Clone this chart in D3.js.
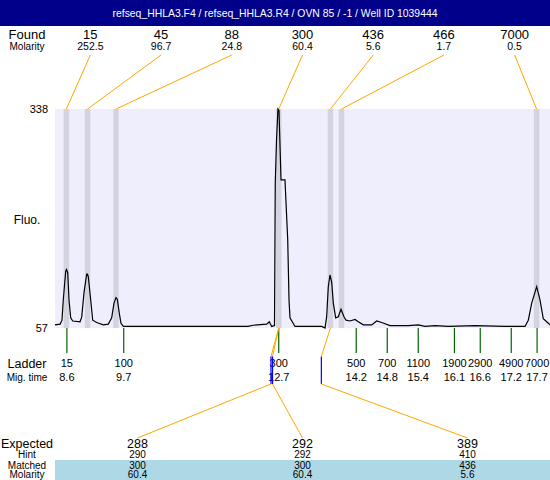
<!DOCTYPE html>
<html><head><meta charset="utf-8">
<script src="https://cdn.jsdelivr.net/npm/d3@7"></script>
<style>
html,body{margin:0;padding:0;background:#fff;}
svg{display:block;font-family:"Liberation Sans",Arial,sans-serif;}
</style></head>
<body>
<svg id="chart" width="550" height="480"></svg>
<script>
const title = "refseq_HHLA3.F4 / refseq_HHLA3.R4 / OVN 85 / -1 / Well ID 1039444";

const ladderSizes = [15, 100, 300, 500, 700, 1100, 1900, 2900, 4900, 7000];
const ladderTimes = [8.6, 9.7, 12.7, 14.2, 14.8, 15.4, 16.1, 16.6, 17.2, 17.7];

const foundSizes = [15, 45, 88, 300, 436, 466, 7000];
const foundMolarity = ["252.5", "96.7", "24.8", "60.4", "5.6", "1.7", "0.5"];
const foundTimes = [8.59, 9.0, 9.55, 12.70, 13.70, 13.915, 17.69];

const expectedSizes = [288, 292, 389];
const hintSizes = [290, 292, 410];
const matchedSizes = [300, 300, 436];
const matchedMolarity = ["60.4", "60.4", "5.6"];

const yTicks = [57, 338];
const timeDomain = [8.37, 17.95];

const traceTime = [8.37,8.47,8.505,8.53,8.577,8.593,8.616,8.641,8.674,8.713,8.854,8.887,8.931,8.983,8.999,9.014,9.061,9.10,9.177,9.305,9.402,9.467,9.512,9.55,9.576,9.614,9.647,9.692,12.105,12.202,12.467,12.517,12.564,12.618,12.633,12.657,12.685,12.705,12.744,12.821,12.874,12.899,12.918,13.015,13.532,13.596,13.628,13.659,13.692,13.725,13.756,13.802,13.853,13.905,13.963,14.002,14.079,14.176,14.24,14.337,14.499,14.596,14.693,14.853,15.208,15.401,15.531,15.724,15.982,16.499,17.079,17.466,17.53,17.596,17.692,17.756,17.82,17.886,17.95];
const traceFluo = [61,62,67,93,130,132,128,93,70,66,65,71,102,126,126,123,93,67,64,61,62,70,89,96,94,76,63,59,59,60.5,62,65,59,60,243,298,338,336,247,247,170,93,70,59,59,57,71.5,110,125,116,89,70,71.5,81,71.5,67,66,68,65,61,61,66,64,60,60,61,59,60,59,60,59,59,67,89,110,93,69,65,61];

const svg = d3.select("#chart");
const W = 550, H = 480;
const plotL = 55, plotR = 550, plotT = 109, plotB = 328;
const labelX = 27;

const x = d3.scaleLinear().domain(timeDomain).range([plotL, plotR]);
const y = d3.scaleLinear().domain([yTicks[0], yTicks[1]]).range([plotB, plotT]);
const sizeToTime = d3.scaleLinear().domain(ladderSizes).range(ladderTimes);
const foundCol = d3.scaleBand().domain(d3.range(foundSizes.length)).range([plotL, plotR]);
const expCol = d3.scaleBand().domain(d3.range(expectedSizes.length)).range([plotL, plotR]);

// title bar
svg.append("rect").attr("x",0).attr("y",0).attr("width",W).attr("height",26).attr("fill","#00008b");
svg.append("text").attr("x",W/2).attr("y",17).attr("text-anchor","middle").attr("fill","#fff")
  .attr("font-size",10.4).text(title);

// Found header
svg.append("text").attr("x",labelX).attr("y",39).attr("text-anchor","middle").attr("font-size",13).text("Found");
svg.append("text").attr("x",labelX).attr("y",50).attr("text-anchor","middle").attr("font-size",10).text("Molarity");
const fc = i => foundCol(i) + foundCol.bandwidth()/2;
svg.selectAll(".fs").data(foundSizes).join("text").attr("x",(d,i)=>fc(i)).attr("y",39)
  .attr("text-anchor","middle").attr("font-size",13).text(d=>d);
svg.selectAll(".fm").data(foundMolarity).join("text").attr("x",(d,i)=>fc(i)).attr("y",50)
  .attr("text-anchor","middle").attr("font-size",10.5).text(d=>d);

// plot background
svg.append("rect").attr("x",plotL).attr("y",plotT).attr("width",plotR-plotL).attr("height",plotB-plotT).attr("fill","#eeeefc");

// bands
svg.selectAll(".band").data(foundTimes).join("rect")
  .attr("x",d=>x(d)-2.75).attr("y",plotT).attr("width",5.5).attr("height",plotB-plotT).attr("fill","#d4d4e0");

// top connectors
svg.selectAll(".tc").data(foundTimes).join("line")
  .attr("x1",(d,i)=>fc(i)).attr("y1",55).attr("x2",d=>x(d)).attr("y2",plotT)
  .attr("stroke","#ffa500").attr("stroke-width",1);

// trace
const pts = traceTime.map((t,i)=>[t, traceFluo[i]]);
svg.append("path").datum(pts)
  .attr("d", d3.line().x(d=>x(d[0])).y(d=>y(d[1])))
  .attr("fill","none").attr("stroke","#000").attr("stroke-width",1.2);

// y labels
svg.selectAll(".yt").data(yTicks).join("text").attr("x",48).attr("y",d=>y(d)+4)
  .attr("text-anchor","end").attr("font-size",11).text(d=>d);
svg.append("text").attr("x",labelX).attr("y",224).attr("text-anchor","middle").attr("font-size",12).text("Fluo.");

// ladder
svg.selectAll(".lt").data(ladderTimes).join("line")
  .attr("x1",d=>x(d)).attr("x2",d=>x(d)).attr("y1",plotB).attr("y2",353)
  .attr("stroke","#006400").attr("stroke-width",1.2);
svg.selectAll(".ls").data(ladderSizes).join("text").attr("x",(d,i)=>x(ladderTimes[i])).attr("y",367)
  .attr("text-anchor","middle").attr("font-size",11).text(d=>d);
svg.selectAll(".lm").data(ladderTimes).join("text").attr("x",d=>x(d)).attr("y",381)
  .attr("text-anchor","middle").attr("font-size",11).text(d=>d.toFixed(1));
svg.append("text").attr("x",labelX).attr("y",368).attr("text-anchor","middle").attr("font-size",12.5).text("Ladder");
svg.append("text").attr("x",labelX).attr("y",381).attr("text-anchor","middle").attr("font-size",10).text("Mig. time");

// bottom connectors
const ec = i => expCol(i) + expCol.bandwidth()/2;
expectedSizes.forEach((e,i)=>{
  const fi = foundSizes.indexOf(matchedSizes[i]);
  const hx = x(sizeToTime(hintSizes[i]));
  const g = svg.append("g");
  g.append("line").attr("x1",x(foundTimes[fi])).attr("y1",plotB).attr("x2",hx).attr("y2",356.5)
    .attr("stroke","#ffa500").attr("stroke-width",1);
  g.append("line").attr("x1",hx).attr("x2",hx).attr("y1",356.5).attr("y2",384)
    .attr("stroke","#0000ff").attr("stroke-width",1.2);
  g.append("line").attr("x1",hx).attr("y1",384).attr("x2",ec(i)).attr("y2",438)
    .attr("stroke","#ffa500").attr("stroke-width",1);
});

// bottom table
svg.append("rect").attr("x",plotL).attr("y",460).attr("width",plotR-plotL).attr("height",20).attr("fill","#add8e6");
svg.append("text").attr("x",labelX).attr("y",448).attr("text-anchor","middle").attr("font-size",12.5).text("Expected");
svg.append("text").attr("x",labelX).attr("y",458).attr("text-anchor","middle").attr("font-size",10).text("Hint");
svg.append("text").attr("x",labelX).attr("y",468.5).attr("text-anchor","middle").attr("font-size",10).text("Matched");
svg.append("text").attr("x",labelX).attr("y",478).attr("text-anchor","middle").attr("font-size",10).text("Molarity");
svg.selectAll(".ev").data(expectedSizes).join("text").attr("x",(d,i)=>ec(i)).attr("y",448)
  .attr("text-anchor","middle").attr("font-size",12.5).text(d=>d);
svg.selectAll(".hv").data(hintSizes).join("text").attr("x",(d,i)=>ec(i)).attr("y",458)
  .attr("text-anchor","middle").attr("font-size",10).text(d=>d);
svg.selectAll(".mv").data(matchedSizes).join("text").attr("x",(d,i)=>ec(i)).attr("y",468.5)
  .attr("text-anchor","middle").attr("font-size",10).text(d=>d);
svg.selectAll(".mm").data(matchedMolarity).join("text").attr("x",(d,i)=>ec(i)).attr("y",478)
  .attr("text-anchor","middle").attr("font-size",10).text(d=>d);
</script>
</body></html>
